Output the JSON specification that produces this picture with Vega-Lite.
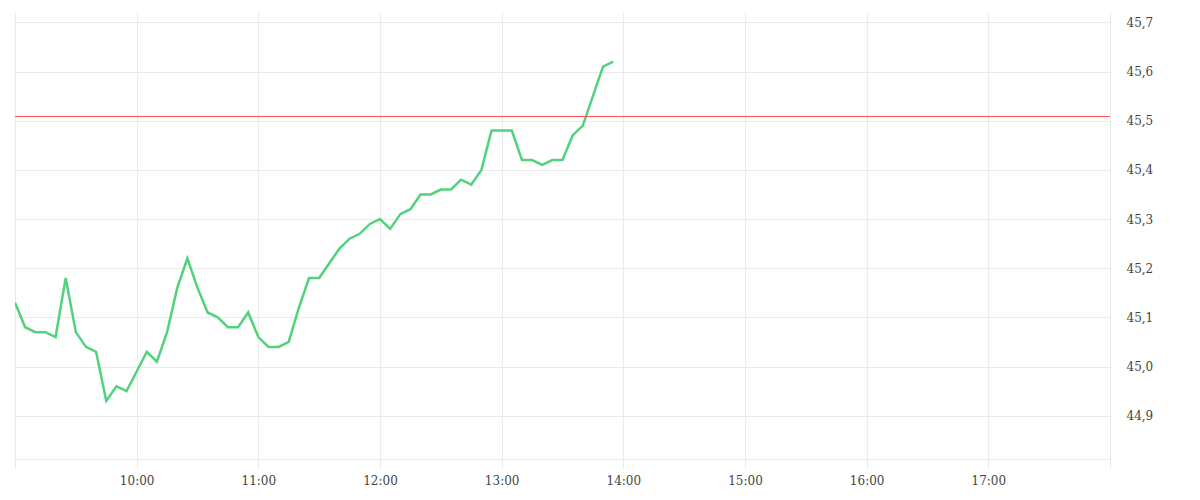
{
  "$schema": "https://vega.github.io/schema/vega-lite/v6.json",
  "autosize": "none",
  "width": 1095,
  "height": 447,
  "padding": {"left": 15, "top": 12, "right": 90, "bottom": 41},
  "background": "#ffffff",
  "config": {
    "view": {"stroke": null},
    "axis": {"labelFont": "DejaVu Serif", "labelFontSize": 12, "labelColor": "#444444", "gridColor": "#ebebeb", "domainColor": "#ebebeb", "tickColor": "#ebebeb", "title": null}
  },
  "data": {
    "values": [
      {"time": "2024-01-01T09:00:00", "price": 45.13},
      {"time": "2024-01-01T09:05:00", "price": 45.08},
      {"time": "2024-01-01T09:10:00", "price": 45.07},
      {"time": "2024-01-01T09:15:00", "price": 45.07},
      {"time": "2024-01-01T09:20:00", "price": 45.06},
      {"time": "2024-01-01T09:25:00", "price": 45.18},
      {"time": "2024-01-01T09:30:00", "price": 45.07},
      {"time": "2024-01-01T09:35:00", "price": 45.04},
      {"time": "2024-01-01T09:40:00", "price": 45.03},
      {"time": "2024-01-01T09:45:00", "price": 44.93},
      {"time": "2024-01-01T09:50:00", "price": 44.96},
      {"time": "2024-01-01T09:55:00", "price": 44.95},
      {"time": "2024-01-01T10:00:00", "price": 44.99},
      {"time": "2024-01-01T10:05:00", "price": 45.03},
      {"time": "2024-01-01T10:10:00", "price": 45.01},
      {"time": "2024-01-01T10:15:00", "price": 45.07},
      {"time": "2024-01-01T10:20:00", "price": 45.16},
      {"time": "2024-01-01T10:25:00", "price": 45.22},
      {"time": "2024-01-01T10:30:00", "price": 45.16},
      {"time": "2024-01-01T10:35:00", "price": 45.11},
      {"time": "2024-01-01T10:40:00", "price": 45.10},
      {"time": "2024-01-01T10:45:00", "price": 45.08},
      {"time": "2024-01-01T10:50:00", "price": 45.08},
      {"time": "2024-01-01T10:55:00", "price": 45.11},
      {"time": "2024-01-01T11:00:00", "price": 45.06},
      {"time": "2024-01-01T11:05:00", "price": 45.04},
      {"time": "2024-01-01T11:10:00", "price": 45.04},
      {"time": "2024-01-01T11:15:00", "price": 45.05},
      {"time": "2024-01-01T11:20:00", "price": 45.12},
      {"time": "2024-01-01T11:25:00", "price": 45.18},
      {"time": "2024-01-01T11:30:00", "price": 45.18},
      {"time": "2024-01-01T11:35:00", "price": 45.21},
      {"time": "2024-01-01T11:40:00", "price": 45.24},
      {"time": "2024-01-01T11:45:00", "price": 45.26},
      {"time": "2024-01-01T11:50:00", "price": 45.27},
      {"time": "2024-01-01T11:55:00", "price": 45.29},
      {"time": "2024-01-01T12:00:00", "price": 45.30},
      {"time": "2024-01-01T12:05:00", "price": 45.28},
      {"time": "2024-01-01T12:10:00", "price": 45.31},
      {"time": "2024-01-01T12:15:00", "price": 45.32},
      {"time": "2024-01-01T12:20:00", "price": 45.35},
      {"time": "2024-01-01T12:25:00", "price": 45.35},
      {"time": "2024-01-01T12:30:00", "price": 45.36},
      {"time": "2024-01-01T12:35:00", "price": 45.36},
      {"time": "2024-01-01T12:40:00", "price": 45.38},
      {"time": "2024-01-01T12:45:00", "price": 45.37},
      {"time": "2024-01-01T12:50:00", "price": 45.40},
      {"time": "2024-01-01T12:55:00", "price": 45.48},
      {"time": "2024-01-01T13:00:00", "price": 45.48},
      {"time": "2024-01-01T13:05:00", "price": 45.48},
      {"time": "2024-01-01T13:10:00", "price": 45.42},
      {"time": "2024-01-01T13:15:00", "price": 45.42},
      {"time": "2024-01-01T13:20:00", "price": 45.41},
      {"time": "2024-01-01T13:25:00", "price": 45.42},
      {"time": "2024-01-01T13:30:00", "price": 45.42},
      {"time": "2024-01-01T13:35:00", "price": 45.47},
      {"time": "2024-01-01T13:40:00", "price": 45.49},
      {"time": "2024-01-01T13:45:00", "price": 45.55},
      {"time": "2024-01-01T13:50:00", "price": 45.61},
      {"time": "2024-01-01T13:55:00", "price": 45.62}
    ]
  },
  "layer": [
    {
      "mark": {"type": "line", "color": "#52d27f", "strokeWidth": 2.5, "clip": true},
      "encoding": {
        "x": {
          "field": "time",
          "type": "temporal",
          "scale": {"domain": [{"year": 2024, "month": 1, "date": 1, "hours": 9}, {"year": 2024, "month": 1, "date": 1, "hours": 18}]},
          "axis": {
            "values": [
              {"year": 2024, "month": 1, "date": 1, "hours": 9},
              {"year": 2024, "month": 1, "date": 1, "hours": 10},
              {"year": 2024, "month": 1, "date": 1, "hours": 11},
              {"year": 2024, "month": 1, "date": 1, "hours": 12},
              {"year": 2024, "month": 1, "date": 1, "hours": 13},
              {"year": 2024, "month": 1, "date": 1, "hours": 14},
              {"year": 2024, "month": 1, "date": 1, "hours": 15},
              {"year": 2024, "month": 1, "date": 1, "hours": 16},
              {"year": 2024, "month": 1, "date": 1, "hours": 17},
              {"year": 2024, "month": 1, "date": 1, "hours": 18}
            ],
            "labelExpr": "(hours(datum.value) == 9 || hours(datum.value) == 18) ? '' : timeFormat(datum.value, '%H:%M')",
            "grid": true,
            "ticks": true,
            "tickSize": 9,
            "domain": true,
            "labelPadding": 7,
            "labelFlush": false,
            "labelOverlap": false
          }
        },
        "y": {
          "field": "price",
          "type": "quantitative",
          "scale": {"domain": [44.812, 45.721], "zero": false, "nice": false},
          "axis": {
            "orient": "right",
            "values": [44.9, 45.0, 45.1, 45.2, 45.3, 45.4, 45.5, 45.6, 45.7],
            "labelExpr": "replace(format(datum.value, '.1f'), '.', ',')",
            "grid": true,
            "ticks": false,
            "domain": false,
            "labelPadding": 16
          }
        }
      }
    },
    {
      "data": {"values": [{"level": 45.5085}]},
      "mark": {"type": "rule", "color": "#ff4d57", "strokeWidth": 1},
      "encoding": {
        "y": {"field": "level", "type": "quantitative"}
      }
    }
  ]
}
